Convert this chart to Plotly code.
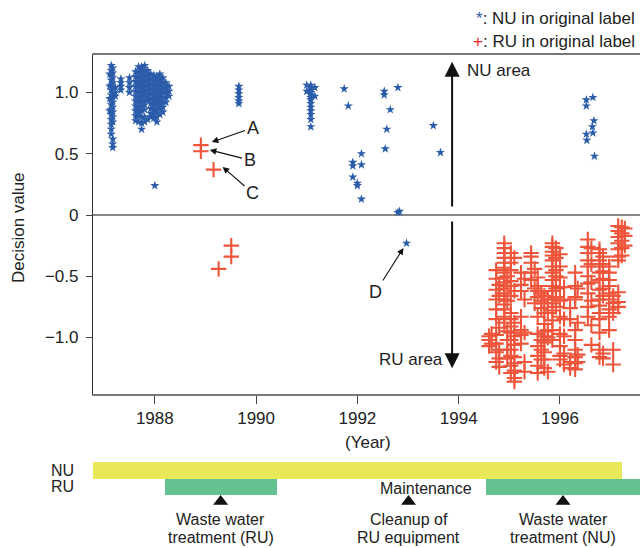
import plotly.graph_objects as go

# ---------------- data ----------------
# NU in original label (blue stars): (year, decision values)
nu_cols = [
    (1987.11, [1.15, 1.05, 0.95, 0.85]),
    (1987.14, [1.22, 1.18, 1.14, 1.10, 1.06, 1.02, 0.98, 0.94, 0.90, 0.86, 0.82, 0.78, 0.74, 0.70, 0.66]),
    (1987.17, [1.20, 1.16, 1.12, 1.08, 1.04, 1.00, 0.96, 0.92, 0.88, 0.84, 0.80, 0.76, 0.62, 0.58, 0.55]),
    (1987.22, [1.04, 1.00, 0.97]),
    (1987.33, [1.11, 1.08, 1.05, 1.02]),
    (1987.50, [1.12, 1.08, 1.04, 1.00]),
    (1987.62, [1.17, 1.13, 1.09, 1.05, 1.01, 0.97, 0.93, 0.89, 0.85, 0.81, 0.77]),
    (1987.68, [1.21, 1.17, 1.13, 1.09, 1.05, 1.01, 0.97, 0.93, 0.89, 0.85, 0.81, 0.76]),
    (1987.74, [1.21, 1.17, 1.13, 1.09, 1.05, 1.01, 0.97, 0.93, 0.89, 0.85, 0.80, 0.75, 0.70]),
    (1987.80, [1.22, 1.18, 1.14, 1.10, 1.06, 1.02, 0.98, 0.94, 0.90, 0.86, 0.80, 0.76]),
    (1987.86, [1.18, 1.14, 1.10, 1.06, 1.02, 0.98, 0.94, 0.78]),
    (1987.92, [1.15, 1.11, 1.07, 1.03, 0.99, 0.95, 0.91, 0.87, 0.83, 0.80]),
    (1987.98, [1.14, 1.10, 1.06, 1.02, 0.98, 0.94, 0.90, 0.86, 0.82, 0.79]),
    (1988.04, [1.13, 1.09, 1.05, 1.01, 0.97, 0.93, 0.89, 0.85, 0.80, 0.76]),
    (1988.10, [1.15, 1.11, 1.07, 1.03, 0.99, 0.95, 0.91, 0.87, 0.82]),
    (1988.16, [1.12, 1.08, 1.04, 1.00, 0.96, 0.92, 0.88, 0.84]),
    (1988.22, [1.08, 1.04, 1.00, 0.96, 0.92]),
    (1988.28, [1.05, 1.01, 0.97]),
    (1988.00, [0.24]),
    (1989.66, [1.05, 1.02, 0.99, 0.96, 0.93, 0.91]),
    (1991.00, [1.06, 1.01]),
    (1991.08, [1.06, 1.04, 1.02, 1.00, 0.98, 0.96, 0.94, 0.91, 0.88, 0.85, 0.82, 0.78, 0.72]),
    (1991.16, [1.04, 0.97]),
    (1991.74, [1.03]),
    (1991.82, [0.89]),
    (1991.91, [0.43, 0.40, 0.31]),
    (1992.00, [0.26, 0.24]),
    (1992.08, [0.50, 0.41, 0.13]),
    (1992.53, [1.01, 0.98]),
    (1992.55, [0.54]),
    (1992.58, [0.70]),
    (1992.65, [0.86]),
    (1992.80, [1.04, 0.02]),
    (1992.83, [0.03]),
    (1992.97, [-0.23]),
    (1993.50, [0.73]),
    (1993.64, [0.51]),
    (1996.52, [0.94, 0.89, 0.66]),
    (1996.53, [0.61]),
    (1996.64, [0.72]),
    (1996.65, [0.96, 0.67]),
    (1996.67, [0.77]),
    (1996.68, [0.48]),
]

# RU in original label (red crosses)
ru_cols = [
    (1988.91, [0.57, 0.52]),
    (1989.16, [0.37]),
    (1989.26, [-0.44]),
    (1989.51, [-0.25, -0.34]),
    (1994.60, [-0.99, -1.02, -1.07]),
    (1994.65, [-0.97, -1.05]),
    (1994.74, [-0.45, -0.52, -0.61, -0.69, -0.77, -0.85, -0.98, -1.05, -1.12, -1.20]),
    (1994.80, [-0.57, -0.66, -0.92, -1.10, -1.17, -1.24]),
    (1994.90, [-0.23, -0.27, -0.31, -0.35, -0.39, -0.43, -0.47, -0.51, -0.55, -0.60, -0.64, -0.69, -0.73, -0.77, -0.83, -0.88]),
    (1994.96, [-0.50, -0.58, -0.70, -0.95, -1.02, -1.10, -1.17]),
    (1995.03, [-0.31, -0.39, -0.45, -0.54, -0.58, -0.66, -0.80, -0.85, -0.91, -0.96, -1.02, -1.10, -1.15, -1.23, -1.29]),
    (1995.10, [-0.35, -0.62, -0.88, -0.99, -1.06, -1.16, -1.21, -1.27, -1.33, -1.36]),
    (1995.23, [-0.47, -0.57, -0.62, -0.83, -0.94, -0.98, -1.05]),
    (1995.30, [-0.52, -0.69, -0.96, -1.20, -1.28]),
    (1995.43, [-0.31, -0.34, -0.39, -0.47, -0.53]),
    (1995.50, [-0.44, -0.60, -0.72]),
    (1995.56, [-0.51, -0.58, -0.62, -0.67, -0.83, -0.97, -1.07, -1.15, -1.23, -1.29]),
    (1995.63, [-0.64, -0.70, -0.76, -1.02, -1.10, -1.18]),
    (1995.69, [-0.66, -0.72, -0.80, -0.89, -0.95, -0.99, -1.04, -1.12, -1.18, -1.25]),
    (1995.76, [-0.69, -0.80, -0.94, -1.00, -1.28]),
    (1995.85, [-0.23, -0.26, -0.30, -0.33, -0.37, -0.42, -0.47, -0.53, -0.58, -0.62, -0.69, -0.72, -0.78, -0.86, -0.94, -1.02]),
    (1995.92, [-0.27, -0.35, -0.45, -0.50, -0.60, -0.67, -0.75]),
    (1996.00, [-0.32, -0.42, -0.51, -0.59, -0.70, -0.83, -0.97, -1.07, -1.15, -1.18]),
    (1996.08, [-0.59, -0.69, -0.85, -0.99, -1.13, -1.22]),
    (1996.20, [-0.76, -0.85, -1.20, -1.25]),
    (1996.30, [-0.47, -0.58, -0.67, -0.69, -0.94, -1.02, -1.10, -1.16, -1.21, -1.26]),
    (1996.35, [-0.60, -0.88, -1.14, -1.20]),
    (1996.55, [-0.20, -0.26, -0.31, -0.37, -0.42, -0.50, -0.56, -0.64, -0.75, -0.83]),
    (1996.62, [-0.27, -0.40, -0.55, -0.70, -0.90, -1.06]),
    (1996.78, [-0.28, -0.31, -0.37, -0.42, -0.47, -0.53, -0.61, -0.69, -0.74, -0.80, -0.85, -0.96, -1.10, -1.16]),
    (1996.85, [-0.34, -0.40, -0.46, -0.52, -0.60, -0.66, -1.13, -1.17]),
    (1996.97, [-0.42, -0.47, -0.53, -0.58, -0.64, -0.69, -0.77, -0.83, -0.94]),
    (1997.05, [-0.66, -0.72, -0.80, -1.10, -1.22]),
    (1997.15, [-0.09, -0.13, -0.18, -0.23, -0.28, -0.34, -0.37, -0.63, -0.71, -0.75]),
    (1997.22, [-0.10, -0.15, -0.21, -0.27, -0.33]),
    (1997.28, [-0.11, -0.17, -0.25]),
]

# timeline periods
period_rows = ["NU", "RU", "RU"]
period_start = [1986.78, 1988.20, 1994.54]
period_end = [1997.22, 1990.42, 1998.20]
period_colors = ["#e8e858", "#63c28f", "#63c28f"]

events_year = [1989.30, 1993.01, 1996.06]
events_line1 = ["Waste water", "Cleanup of", "Waste water"]
events_line2 = ["treatment (RU)", "RU equipment", "treatment (NU)"]

x_ticks = [1988, 1990, 1992, 1994, 1996]
y_ticks = [-1.0, -0.5, 0, 0.5, 1.0]
y_ticktext = ["\u22121.0", "\u22120.5", "0", "0.5", "1.0"]

# labelled points: (label, point year, point value, label year, label value)
callouts = [
    ("A", 1989.125, 0.596, 1989.93, 0.71),
    ("B", 1989.085, 0.531, 1989.87, 0.449),
    ("C", 1989.34, 0.392, 1989.93, 0.18),
    ("D", 1992.91, -0.269, 1992.36, -0.629),
]

nu_x = [x for x, ys in nu_cols for _ in ys]
nu_y = [y for _, ys in nu_cols for y in ys]
ru_x = [x for x, ys in ru_cols for _ in ys]
ru_y = [y for _, ys in ru_cols for y in ys]

BLUE = "#2b5caa"
RED = "#ec2020"
FONT = "Liberation Sans, Arial, sans-serif"
W, H = 640, 548
ML, MT, MR = 93, 55, 0
PLOT_W = W - ML - MR
PLOT_H = H - MT


def py(pix):
    return (H - pix) / PLOT_H


def px(pix):
    return (pix - ML) / PLOT_W


fig = go.Figure()
fig.add_trace(go.Scatter(x=nu_x, y=nu_y, mode="markers",
                         marker=dict(symbol="star", size=7, color=BLUE,
                                     line=dict(width=0)),
                         showlegend=False, hoverinfo="skip"))
fig.add_trace(go.Scatter(x=ru_x, y=ru_y, mode="markers",
                         marker=dict(symbol="cross-thin-open", size=11,
                                     line=dict(width=2.1, color=RED)),
                         showlegend=False, hoverinfo="skip"))

row_pos = {"NU": 1.5, "RU": 0.5}
fig.add_trace(go.Bar(orientation="h", xaxis="x2", yaxis="y2",
                     y=[row_pos[r] for r in period_rows],
                     base=period_start,
                     x=[e - s for s, e in zip(period_start, period_end)],
                     width=1, marker=dict(color=period_colors, line=dict(width=0)),
                     showlegend=False, hoverinfo="skip"))
fig.add_trace(go.Scatter(x=events_year, y=[-0.4] * len(events_year), xaxis="x2", yaxis="y2",
                         mode="markers", cliponaxis=False,
                         marker=dict(symbol="triangle-up", size=13, color="#111"),
                         showlegend=False, hoverinfo="skip"))

xr = [1986.78, 1997.58]
fig.update_layout(
    width=W, height=H, margin=dict(l=ML, r=MR, t=MT, b=0),
    paper_bgcolor="white", plot_bgcolor="white",
    font=dict(family=FONT, size=17, color="#222"),
    xaxis=dict(range=xr, domain=[0, 1], anchor="y", tickvals=x_ticks,
               ticks="outside", ticklen=8, tickwidth=1, tickcolor="#444",
               showline=True, linecolor="#777", linewidth=1.5, mirror=True,
               showgrid=False, zeroline=False, tickfont=dict(size=17)),
    yaxis=dict(range=[-1.461, 1.306], domain=[py(394), 1], anchor="x",
               tickvals=y_ticks, ticktext=y_ticktext,
               ticks="outside", ticklen=6, tickwidth=1, tickcolor="#444",
               showline=True, linecolor="#333", linewidth=1.2,
               showgrid=False, zeroline=True, zerolinecolor="#888", zerolinewidth=1.5,
               tickfont=dict(size=17), ticklabelstandoff=4),
    xaxis2=dict(range=xr, domain=[0, 1], anchor="y2", visible=False),
    yaxis2=dict(range=[-0.6, 2], domain=[py(504.9), py(462)], anchor="x2",
                tickvals=[1.5, 0.5], ticktext=["NU", "RU"], ticks="",
                showline=False, showgrid=False, zeroline=False,
                tickfont=dict(size=16), ticklabelstandoff=18),
    bargap=0,
)

C = dict(xanchor="center", yanchor="middle")
ann = []
ann.append(dict(x=px(18), y=py(228), xref="paper", yref="paper", text="Decision value",
                textangle=-90, showarrow=False, font=dict(size=17), **C))
ann.append(dict(x=px(368), y=py(442), xref="paper", yref="paper",
                text="(Year)", showarrow=False, font=dict(size=17), **C))
ann.append(dict(x=px(637), y=py(18), xref="paper", yref="paper",
                xanchor="right", yanchor="middle", showarrow=False, font=dict(size=17),
                text=f"<span style='color:{BLUE}'>*</span>: NU in original label"))
ann.append(dict(x=px(637), y=py(42), xref="paper", yref="paper",
                xanchor="right", yanchor="middle", showarrow=False, font=dict(size=17),
                text=f"<span style='color:{RED}'>+</span>: RU in original label"))
ann.append(dict(x=1993.87, y=1.25, ax=1993.87, ay=0.057, xref="x", yref="y",
                axref="x", ayref="y", text="", showarrow=True, arrowhead=2,
                arrowsize=1.5, arrowwidth=2, arrowcolor="#111"))
ann.append(dict(x=1993.87, y=-1.25, ax=1993.87, ay=-0.04, xref="x", yref="y",
                axref="x", ayref="y", text="", showarrow=True, arrowhead=2,
                arrowsize=1.5, arrowwidth=2, arrowcolor="#111"))
ann.append(dict(x=1994.12, y=1.18, xref="x", yref="y", xanchor="left", yanchor="middle",
                text="NU area", showarrow=False, font=dict(size=17)))
ann.append(dict(x=1993.73, y=-1.18, xref="x", yref="y", xanchor="right", yanchor="middle",
                text="RU area", showarrow=False, font=dict(size=17)))
for lab, xp, vp, lx, lv in callouts:
    ann.append(dict(x=xp, y=vp, ax=lx, ay=lv, xref="x", yref="y", axref="x", ayref="y",
                    text=lab, showarrow=True, arrowhead=2, arrowsize=1.2,
                    arrowwidth=1.1, arrowcolor="#111", font=dict(size=18)))
ann.append(dict(x=1993.36, y=py(488), xref="x2", yref="paper", text="Maintenance",
                showarrow=False, font=dict(size=16), **C))
for ex, l1, l2 in zip(events_year, events_line1, events_line2):
    ann.append(dict(x=ex, y=py(519), xref="x2", yref="paper", text=l1,
                    showarrow=False, font=dict(size=16), **C))
    ann.append(dict(x=ex, y=py(537), xref="x2", yref="paper", text=l2,
                    showarrow=False, font=dict(size=16), **C))
fig.update_layout(annotations=ann)

# remove the page's default body margin so the 640x548 figure fills the window
fig.write_html("out.html", config={"displayModeBar": False},
               post_script="document.body.style.margin='0';document.body.style.overflow='hidden';")
